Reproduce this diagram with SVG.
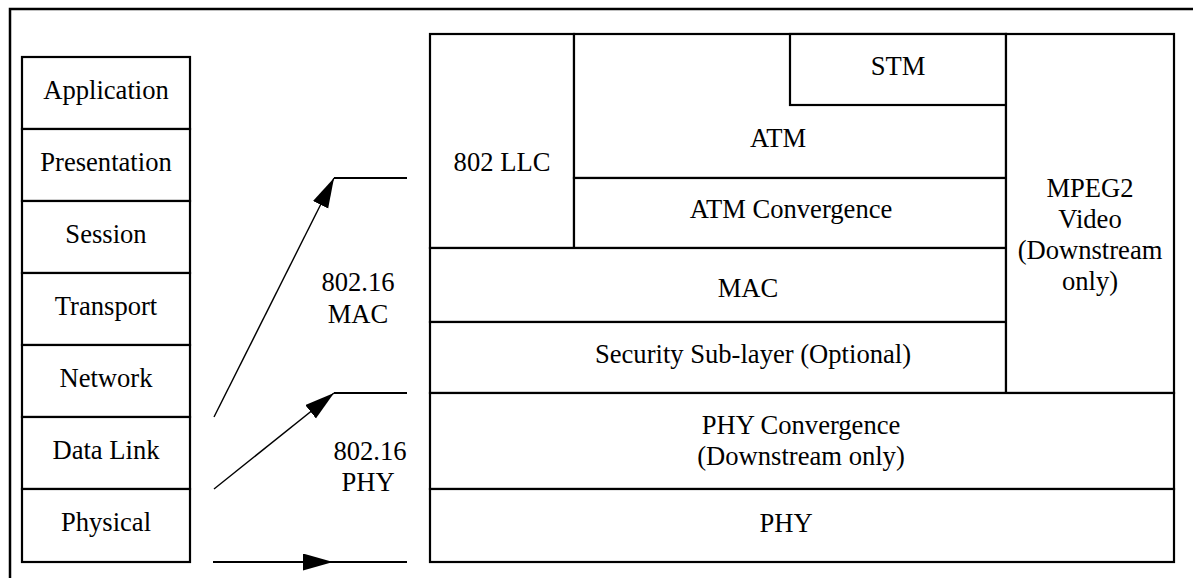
<svg xmlns="http://www.w3.org/2000/svg" width="1193" height="579" viewBox="0 0 1193 579">
  <style>
    .box { fill: #fff; stroke: #000; stroke-width: 2.2; }
    .lbl { font-family: "Liberation Serif", "Times New Roman", "DejaVu Serif", serif; font-size: 26.6px; fill: #000; text-anchor: middle; }
    .wire { fill: none; stroke: #000; stroke-width: 1.4; }
    .rail { fill: none; stroke: #000; stroke-width: 2.2; }
  </style>
  <defs>
    <marker id="head" markerUnits="userSpaceOnUse" markerWidth="31" markerHeight="18" refX="30" refY="8.5" orient="auto">
      <path d="M0,0 L30,8.5 L0,17 z" fill="#000"/>
    </marker>
  </defs>

  <rect width="1193" height="579" fill="#fff"/>
  <!-- outer frame (left and top edges) -->
  <path d="M10,578 V9 H1193" fill="none" stroke="#000" stroke-width="2.5"/>

  <!-- OSI reference stack -->
  <g id="osi-stack">
    <g id="osi-application"><rect class="box" x="22" y="57" width="168" height="72"/><text class="lbl" x="106" y="99">Application</text></g>
    <g id="osi-presentation"><rect class="box" x="22" y="129" width="168" height="72"/><text class="lbl" x="106" y="171">Presentation</text></g>
    <g id="osi-session"><rect class="box" x="22" y="201" width="168" height="72"/><text class="lbl" x="106" y="243">Session</text></g>
    <g id="osi-transport"><rect class="box" x="22" y="273" width="168" height="72"/><text class="lbl" x="106" y="315">Transport</text></g>
    <g id="osi-network"><rect class="box" x="22" y="345" width="168" height="72"/><text class="lbl" x="106" y="387">Network</text></g>
    <g id="osi-datalink"><rect class="box" x="22" y="417" width="168" height="72"/><text class="lbl" x="106" y="459">Data Link</text></g>
    <g id="osi-physical"><rect class="box" x="22" y="489" width="168" height="73"/><text class="lbl" x="106" y="531">Physical</text></g>
  </g>

  <!-- 802.16 stack -->
  <g id="llc"><rect class="box" x="430" y="34" width="144" height="214"/><text class="lbl" x="502" y="171">802 LLC</text></g>
  <g id="atm"><rect class="box" x="574" y="34" width="432" height="144"/><text class="lbl" x="778" y="147">ATM</text></g>
  <g id="stm"><rect class="box" x="790" y="34" width="216" height="71"/><text class="lbl" x="898" y="75">STM</text></g>
  <g id="atm-convergence"><rect class="box" x="574" y="178" width="432" height="70"/><text class="lbl" x="791" y="218">ATM Convergence</text></g>
  <g id="mac"><rect class="box" x="430" y="248" width="576" height="74"/><text class="lbl" x="748" y="297">MAC</text></g>
  <g id="security"><rect class="box" x="430" y="322" width="576" height="71"/><text class="lbl" x="753" y="363">Security Sub-layer (Optional)</text></g>
  <g id="mpeg2"><rect class="box" x="1006" y="34" width="168" height="359"/>
    <text class="lbl" x="1090" y="196.5">MPEG2</text>
    <text class="lbl" x="1090" y="227.5">Video</text>
    <text class="lbl" x="1090" y="258.5">(Downstream</text>
    <text class="lbl" x="1090" y="289.5">only)</text>
  </g>
  <g id="phy-convergence"><rect class="box" x="430" y="393" width="744" height="96"/>
    <text class="lbl" x="801" y="434">PHY Convergence</text>
    <text class="lbl" x="801" y="465">(Downstream only)</text>
  </g>
  <g id="phy"><rect class="box" x="430" y="489" width="744" height="73"/><text class="lbl" x="786" y="532">PHY</text></g>

  <!-- mapping labels -->
  <g id="label-mac"><text class="lbl" x="358" y="291">802.16</text><text class="lbl" x="358" y="323">MAC</text></g>
  <g id="label-phy"><text class="lbl" x="370" y="460">802.16</text><text class="lbl" x="368" y="491">PHY</text></g>

  <!-- connectors -->
  <g id="connectors">
    <line class="wire" x1="214" y1="417" x2="334" y2="178" marker-end="url(#head)"/>
    <line class="rail" x1="334" y1="178" x2="407" y2="178"/>
    <line class="wire" x1="214" y1="489" x2="334" y2="393" marker-end="url(#head)"/>
    <line class="rail" x1="334" y1="393" x2="407" y2="393"/>
    <line class="rail" x1="213" y1="562" x2="333" y2="562" marker-end="url(#head)"/>
    <line class="rail" x1="333" y1="562" x2="407" y2="562"/>
  </g>
</svg>
